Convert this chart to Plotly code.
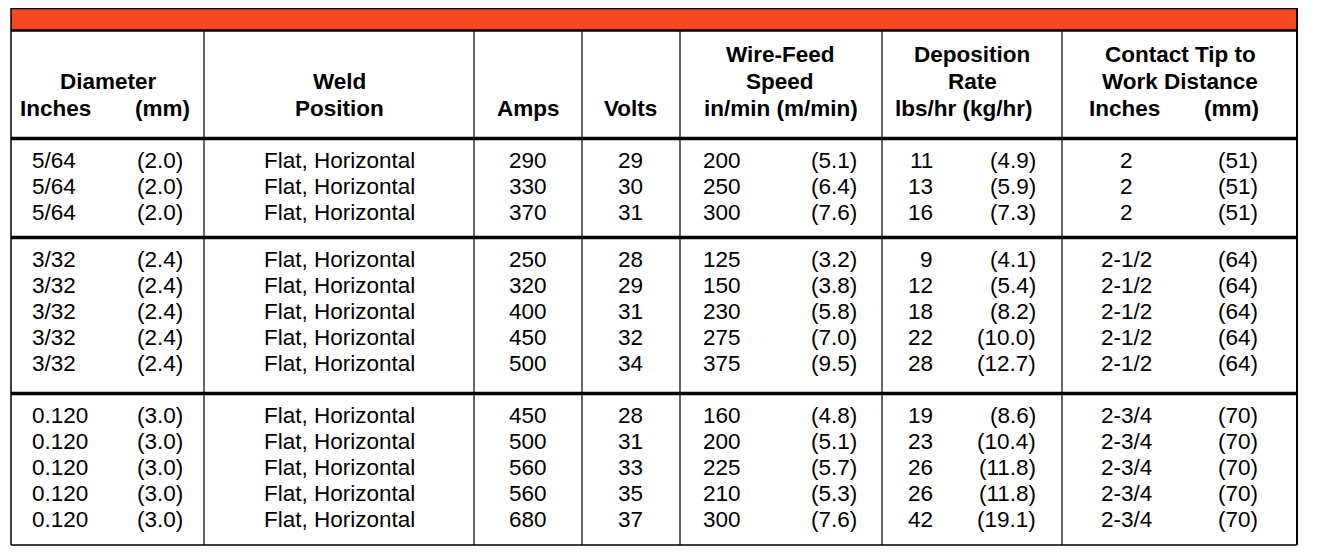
import plotly.graph_objects as go

# table data, one list per column
diam_in = ["5/64"] * 3 + ["3/32"] * 5 + ["0.120"] * 5
diam_mm = ["(2.0)"] * 3 + ["(2.4)"] * 5 + ["(3.0)"] * 5
weld_pos = ["Flat, Horizontal"] * 13
amps = [290, 330, 370, 250, 320, 400, 450, 500, 450, 500, 560, 560, 680]
volts = [29, 30, 31, 28, 29, 31, 32, 34, 28, 31, 33, 35, 37]
wfs_ipm = [200, 250, 300, 125, 150, 230, 275, 375, 160, 200, 225, 210, 300]
wfs_mpm = [5.1, 6.4, 7.6, 3.2, 3.8, 5.8, 7.0, 9.5, 4.8, 5.1, 5.7, 5.3, 7.6]
dep_lbs = [11, 13, 16, 9, 12, 18, 22, 28, 19, 23, 26, 26, 42]
dep_kg = [4.9, 5.9, 7.3, 4.1, 5.4, 8.2, 10.0, 12.7, 8.6, 10.4, 11.8, 11.8, 19.1]
ctwd_in = ["2"] * 3 + ["2-1/2"] * 5 + ["2-3/4"] * 5
ctwd_mm = [51] * 3 + [64] * 5 + [70] * 5
group_sizes = [3, 5, 5]

W, H = 1324, 558
PAGE_PAD = 8  # default body margin of the html page
FONT = "Liberation Sans, Arial, sans-serif"
FS = 22.5

# layout of the table (pixels)
left, right = 11, 1297
col_edges = [204, 474, 582, 680, 882, 1062]
top_y, band_bot = 8, 30.5
header_bot = 138.5
group_seps = [header_bot, 237.5, 393.5]
bottom_y = 545
row_pitch = 26
first_off = 22

fig = go.Figure()
shapes = []
# orange band
shapes.append(dict(type="rect", x0=left, x1=right, y0=top_y, y1=band_bot,
                   fillcolor="#F9471F", line=dict(width=0), layer="below"))
shapes.append(dict(type="line", x0=left, x1=right, y0=top_y, y1=top_y,
                   line=dict(color="black", width=2.5)))
shapes.append(dict(type="line", x0=left, x1=right, y0=band_bot, y1=band_bot,
                   line=dict(color="black", width=2.5)))
for y in group_seps:
    shapes.append(dict(type="line", x0=left, x1=right, y0=y, y1=y,
                       line=dict(color="black", width=3.5)))
shapes.append(dict(type="line", x0=left, x1=right, y0=bottom_y, y1=bottom_y,
                   line=dict(color="black", width=1.5)))
shapes.append(dict(type="line", x0=left, x1=left, y0=top_y, y1=bottom_y,
                   line=dict(color="black", width=1.5)))
shapes.append(dict(type="line", x0=right, x1=right, y0=top_y, y1=bottom_y,
                   line=dict(color="black", width=2)))
for x in col_edges:
    shapes.append(dict(type="line", x0=x, x1=x, y0=band_bot, y1=bottom_y,
                       line=dict(color="black", width=1.2)))

annotations = []


def add_text(txt, x, y, anchor="center", bold=False):
    annotations.append(dict(
        text=f"<b>{txt}</b>" if bold else txt, x=x, y=y, xref="x", yref="y",
        xanchor=anchor, yanchor="middle", showarrow=False,
        borderpad=0, borderwidth=0,
        font=dict(family=FONT, size=FS, color="black")))


# header
h1, h2, h3 = 54, 81, 108
add_text("Diameter", 108, h2, bold=True)
add_text("Inches", 20, h3, "left", True)
add_text("(mm)", 190, h3, "right", True)
add_text("Weld", 339, h2, bold=True)
add_text("Position", 339, h3, bold=True)
add_text("Amps", 528, h3, bold=True)
add_text("Volts", 630, h3, bold=True)
add_text("Wire-Feed", 780, h1, bold=True)
add_text("Speed", 780, h2, bold=True)
add_text("in/min (m/min)", 781, h3, bold=True)
add_text("Deposition", 972, h1, bold=True)
add_text("Rate", 972, h2, bold=True)
add_text("lbs/hr (kg/hr)", 964, h3, bold=True)
add_text("Contact Tip to", 1180, h1, bold=True)
add_text("Work Distance", 1180, h2, bold=True)
add_text("Inches", 1089, h3, "left", True)
add_text("(mm)", 1259, h3, "right", True)

# row positions
row_y = []
for g, n in enumerate(group_sizes):
    for k in range(n):
        row_y.append(group_seps[g] + first_off + k * row_pitch)

for i, y in enumerate(row_y):
    add_text(diam_in[i], 32, y, "left")
    add_text(diam_mm[i], 183, y, "right")
    add_text(weld_pos[i], 339, y)
    add_text(str(amps[i]), 528, y)
    add_text(str(volts[i]), 630, y)
    add_text(str(wfs_ipm[i]), 741, y, "right")
    add_text(f"({wfs_mpm[i]:.1f})", 857, y, "right")
    add_text(str(dep_lbs[i]), 933, y, "right")
    add_text(f"({dep_kg[i]:.1f})", 1036, y, "right")
    add_text(ctwd_in[i], 1126, y)
    add_text(f"({ctwd_mm[i]})", 1258, y, "right")

fig.update_layout(
    width=W, height=H, margin=dict(l=0, r=0, t=0, b=0),
    paper_bgcolor="white", plot_bgcolor="white",
    xaxis=dict(range=[PAGE_PAD, W + PAGE_PAD], visible=False, fixedrange=True),
    yaxis=dict(range=[H + PAGE_PAD, PAGE_PAD], visible=False, fixedrange=True),
    shapes=shapes, annotations=annotations, showlegend=False,
)

fig.write_html("out.html")
